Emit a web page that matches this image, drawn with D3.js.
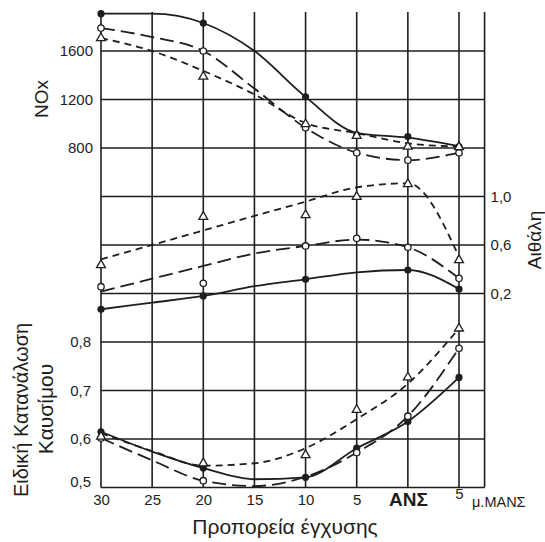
<!DOCTYPE html>
<html>
<head>
<meta charset="utf-8">
<script src="https://cdn.jsdelivr.net/npm/d3@7"></script>
<style>
  body { margin: 0; background: #fff; }
  svg { font-family: "Liberation Sans", Arial, sans-serif; }
</style>
</head>
<body>
<svg id="chart" width="545" height="542"></svg>
<script>
// x positions: grid columns, markers only sit on some of them
let xLabels = ["30", "25", "20", "15", "10", "5", "ΑΝΣ", "5"]
let pointIdx = [0, 2, 4, 5, 6, 7]

let noxTicks = [800, 1200, 1600]
let sootTicks = [0.2, 0.6, 1.0]
let sfcTicks = [0.5, 0.6, 0.7, 0.8]

// NOx (top)
let noxSolidPts = [1908, 1831, 1222, 908, 894, 811]
let noxSolidLine = [1908, 1908, 1831, 1600, 1222, 925, 885, 815]
let noxLongPts = [1789, 1600, 967, 761, 700, 761]
let noxLongLine = [1789, 1715, 1600, 1290, 967, 761, 700, 761]
let noxShortPts = [1706, 1389, 997, 900, 811, 808]
let noxShortLine = [1706, 1600, 1436, 1242, 1006, 922, 839, 811]

// Αιθάλη (middle, right axis)
let sootSolidPts = [0.07, 0.18, 0.317, null, 0.394, 0.237]
let sootSolidLine = [0.07, 0.125, 0.18, 0.26, 0.317, 0.375, 0.394, 0.237]
let sootLongPts = [0.256, 0.284, 0.592, 0.655, 0.581, 0.325]
let sootLongLine = [0.215, 0.322, 0.427, 0.53, 0.592, 0.645, 0.581, 0.325]
let sootShortPts = [0.435, 0.833, 0.847, 0.998, 1.103, 0.476]
let sootShortLine = [0.482, 0.60, 0.72, 0.84, 0.957, 1.076, 1.109, 0.503]

// Ειδική κατανάλωση καυσίμου (bottom)
let sfcSolidPts = [0.615, 0.54, 0.521, 0.581, 0.636, 0.727]
let sfcSolidLine = [0.615, 0.574, 0.54, 0.517, 0.521, 0.581, 0.636, 0.727]
let sfcLongPts = [0.602, 0.514, null, 0.572, 0.647, 0.787]
let sfcLongLine = [0.602, 0.556, 0.514, 0.503, 0.522, 0.572, 0.647, 0.787]
let sfcShortPts = [0.605, 0.55, 0.567, 0.66, 0.727, 0.828]
let sfcShortLine = [0.612, 0.575, 0.545, 0.55, 0.581, 0.641, 0.714, 0.828]

let svg = d3.select("#chart")
let ink = "#1e1e1e"
let plotTop = 12

let x = d3.scaleLinear().domain([0, 7]).range([101, 459])
let plotRight = x(7.5)
let nox = d3.scaleLinear().domain([800, 1600]).range([148, 51])
let soot = d3.scaleLinear().domain([0.2, 1.0]).range([293.5, 196.5])
let sfc = d3.scaleLinear().domain([0.5, 0.8]).range([487.5, 342])
let plotBottom = sfc(0.5)
let comma = (d) => d.toFixed(1).replace(".", ",")

//grid
let grid = svg.append("g")
let hLines = [...noxTicks.map(nox), ...sootTicks.map(soot), ...sfcTicks.map(sfc)]
grid.selectAll(".h")
    .data(hLines)
    .enter()
    .append("line")
    .attr("x1", x(0)).attr("x2", plotRight)
    .attr("y1", (d) => d).attr("y2", (d) => d)
grid.selectAll(".v")
    .data([...d3.range(8), 7.5])
    .enter()
    .append("line")
    .attr("x1", (d) => x(d)).attr("x2", (d) => x(d))
    .attr("y1", plotTop).attr("y2", plotBottom)
grid.selectAll("line")
    .attr("stroke", ink)
    .attr("stroke-width", 1.6)

//axes (labels only)
let tidy = (g, size) => {
    g.select(".domain").remove()
    g.selectAll(".tick line").remove()
    g.selectAll("text").attr("fill", ink).style("font-size", size)
}
svg.append("g")
   .attr("transform", `translate(${x(0)},0)`)
   .call(d3.axisLeft(nox).tickValues(noxTicks).tickSize(0).tickPadding(8).tickFormat(d3.format("d")))
   .call((g) => tidy(g, "15px"))
svg.append("g")
   .attr("transform", `translate(${x(0)},0)`)
   .call(d3.axisLeft(sfc).tickValues(sfcTicks).tickSize(0).tickPadding(10).tickFormat(comma))
   .call((g) => tidy(g, "15px"))
   .selectAll(".tick text")
   .attr("dy", (d) => d === 0.5 ? "-0.05em" : "0.32em")
svg.append("g")
   .attr("transform", `translate(${plotRight},0)`)
   .call(d3.axisRight(soot).tickValues(sootTicks).tickSize(0).tickPadding(6).tickFormat(comma))
   .call((g) => tidy(g, "15px"))

let xAxis = svg.append("g")
   .attr("transform", `translate(0,${plotBottom})`)
   .call(d3.axisBottom(x).tickValues(d3.range(8)).tickSize(0).tickPadding(7).tickFormat((d) => xLabels[d]))
   .call((g) => tidy(g, "15px"))
xAxis.selectAll(".tick text")
     .filter((d) => d === 6)
     .style("font-size", "19px")
     .style("font-weight", "bold")
     .attr("dy", "0.62em")
xAxis.selectAll(".tick text")
     .filter((d) => d === 7)
     .attr("dy", "0.3em")

svg.append("text")
   .attr("x", x(7) + 13)
   .attr("y", 507)
   .attr("fill", ink)
   .style("font-size", "14.5px")
   .text("μ.ΜΑΝΣ")

//titles
let title = (tx, ty, rot, txt, size) => svg.append("text")
    .attr("transform", `translate(${tx},${ty}) rotate(${rot})`)
    .attr("text-anchor", "middle")
    .attr("dominant-baseline", "central")
    .attr("fill", ink)
    .style("font-size", size)
    .text(txt)
title(41, 99, -90, "NOx", "19px")
title(534, 240, -90, "Αιθάλη", "19px")
title(21, 410, -90, "Ειδική Κατανάλωση", "20px")
title(45, 409, -90, "Καυσίμου", "21px")
title(285, 526, 0, "Προπορεία έγχυσης", "21px")

//curves + markers
let panels = [
    {y: nox, series: [[noxSolidLine, noxSolidPts], [noxLongLine, noxLongPts], [noxShortLine, noxShortPts]]},
    {y: soot, series: [[sootSolidLine, sootSolidPts], [sootLongLine, sootLongPts], [sootShortLine, sootShortPts]]},
    {y: sfc, series: [[sfcSolidLine, sfcSolidPts], [sfcLongLine, sfcLongPts], [sfcShortLine, sfcShortPts]]}
]
let dashes = [null, "14,6", "7,5"]
let tri = d3.symbol().type(d3.symbolTriangle).size(34)

panels.forEach((p) => {
    p.series.forEach(([lineVals, ptVals], k) => {
        let line = d3.line()
                     .x((d, i) => x(i))
                     .y((d) => p.y(d))
                     .curve(d3.curveMonotoneX)
        svg.append("path")
           .attr("d", line(lineVals))
           .attr("fill", "none")
           .attr("stroke", ink)
           .attr("stroke-width", 1.8)
           .attr("stroke-dasharray", dashes[k])

        let pts = ptVals.map((v, i) => ({i: pointIdx[i], v: v})).filter((d) => d.v !== null)
        let g = svg.append("g")
                   .selectAll("g")
                   .data(pts)
                   .enter()
                   .append("g")
                   .attr("transform", (d) => `translate(${x(d.i)},${p.y(d.v)})`)
        if (k === 0) {
            g.append("circle").attr("r", 3.6).attr("fill", ink)
        } else if (k === 1) {
            g.append("circle").attr("r", 3.2).attr("fill", "#fff").attr("stroke", ink).attr("stroke-width", 1.3)
        } else {
            g.append("path").attr("d", tri).attr("fill", "#fff").attr("stroke", ink).attr("stroke-width", 1.3)
        }
    })
})
</script>
</body>
</html>
